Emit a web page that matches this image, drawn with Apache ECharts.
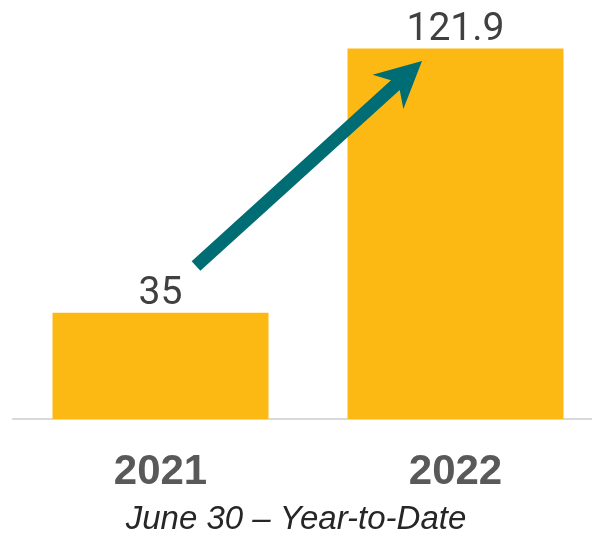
<!DOCTYPE html>
<html><head><meta charset="utf-8">
<script src="https://cdn.jsdelivr.net/npm/echarts@6/dist/echarts.min.js"></script>
<style>html,body{margin:0;padding:0;background:#fff}#c{width:592px;height:540px}</style>
</head><body><div id="c"></div>
<script>
var categories = ['2021', '2022'];
var values = [35, 121.9];
var valueLabels = ['35', '121.9'];
var subtitle = 'June 30 \u2013 Year-to-Date';

// arrow annotation geometry (decorative)
function arrowPoints(sx, sy, tx, ty, shaftHalf, headLen, headHalf, notch) {
  var dx = tx - sx, dy = ty - sy, len = Math.sqrt(dx*dx + dy*dy);
  var ux = dx/len, uy = dy/len, nx = -uy, ny = ux;
  var bx = tx - headLen*ux, by = ty - headLen*uy;
  var jx = bx + notch*ux, jy = by + notch*uy;
  return [
    [sx + shaftHalf*nx, sy + shaftHalf*ny],
    [jx + shaftHalf*nx, jy + shaftHalf*ny],
    [bx + headHalf*nx, by + headHalf*ny],
    [tx, ty],
    [bx - headHalf*nx, by - headHalf*ny],
    [jx - shaftHalf*nx, jy - shaftHalf*ny],
    [sx - shaftHalf*nx, sy - shaftHalf*ny]
  ];
}

var chart = echarts.init(document.getElementById('c'), null, {renderer: 'canvas'});
chart.setOption({
  animation: false,
  grid: {left: 13, top: 24, width: 590, height: 395, containLabel: false, outerBoundsMode: 'none'},
  xAxis: {
    type: 'category', data: categories,
    axisLine: {show: true, lineStyle: {color: '#d9d9d9', width: 2}},
    axisTick: {show: false},
    axisLabel: {color: '#595959', fontSize: 42, fontWeight: 'bold', fontFamily: 'Liberation Sans', margin: 32}
  },
  yAxis: {type: 'value', min: 0, max: 130, show: false, splitLine: {show: false}},
  series: [{
    type: 'bar', data: values, barWidth: 216,
    itemStyle: {color: '#fdb913'},
    label: {show: true, position: 'top', distance: -1, color: '#404040', fontSize: 39, fontWeight: 'normal',
      fontFamily: 'Roboto', formatter: function(p){ return valueLabels[p.dataIndex]; }}
  }],
  graphic: [
    {type: 'polygon', z: 100, shape: {points: arrowPoints(196, 266, 422, 61, 6.5, 46, 23, 10)}, style: {fill: '#006d75'}},
    {type: 'text', left: 'center', top: 503, style: {text: subtitle, fill: '#262626', fontSize: 33, fontStyle: 'italic', fontFamily: 'Liberation Sans', fontWeight: 'normal'}}
  ]
});
</script></body></html>
